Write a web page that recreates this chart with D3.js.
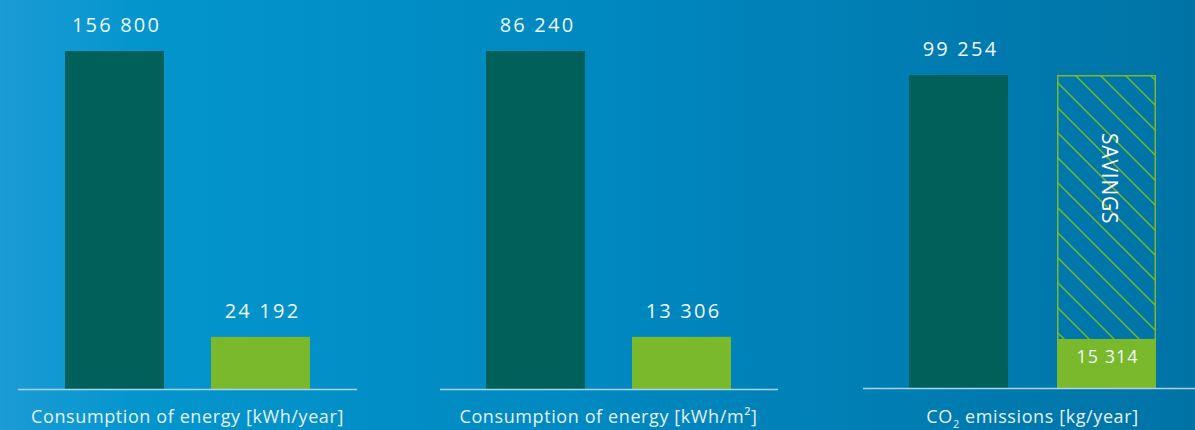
<!DOCTYPE html>
<html>
<head>
<meta charset="utf-8">
<script src="https://cdn.jsdelivr.net/npm/d3@7"></script>
<style>
  html, body { margin: 0; padding: 0; background: #0088c0; }
  svg { display: block; font-family: "Open Sans", "Noto Sans", sans-serif; }
</style>
</head>
<body>
<svg id="chart" width="1195" height="430"></svg>
<script>
// ---- data ----
const panelTitles = ["Consumption of energy [kWh/year]", "Consumption of energy [kWh/m²]", "CO₂ emissions [kg/year]"];
const beforeValues = [156800, 86240, 99254];
const afterValues = [24192, 13306, 15314];
const valueLabels = [["156 800", "24 192"], ["86 240", "13 306"], ["99 254", "15 314"]];
const savingsLabel = "SAVINGS";

// ---- layout ----
const W = 1195, H = 430;
const panels = [
  { x0: 18, x1: 357, barX: [65, 211], base: 389, top: 51 },
  { x0: 440, x1: 778, barX: [486, 632], base: 389, top: 51 },
  { x0: 863, x1: 1195, barX: [909, 1057], base: 388, top: 75 }
];
const barW = 99;
const dark = "#02605a", green = "#7ab82c";

const svg = d3.select("#chart");
const defs = svg.append("defs");
const grad = defs.append("linearGradient").attr("id", "bg").attr("x1", "0").attr("x2", "1").attr("y1", "0").attr("y2", "0");
grad.append("stop").attr("offset", "0").attr("stop-color", "#1c9bd6");
grad.append("stop").attr("offset", "0.12").attr("stop-color", "#0395cc");
grad.append("stop").attr("offset", "0.5").attr("stop-color", "#0088c0");
grad.append("stop").attr("offset", "1").attr("stop-color", "#0073a5");
svg.append("rect").attr("width", W).attr("height", H).attr("fill", "url(#bg)");

const pat = defs.append("pattern").attr("id", "hatch").attr("patternUnits", "userSpaceOnUse")
  .attr("width", 25).attr("height", 25);
pat.append("path").attr("d", "M-5,-5 L30,30 M-5,20 L5,30 M20,-5 L30,5")
  .attr("stroke", green).attr("stroke-width", 1.4).attr("fill", "none");

panels.forEach((p, i) => {
  const g = svg.append("g");
  const y = d3.scaleLinear().domain([0, beforeValues[i]]).range([p.base, p.top]);
  const vals = [beforeValues[i], afterValues[i]];

  // bars
  g.selectAll("rect.bar").data(vals).join("rect")
    .attr("class", "bar")
    .attr("x", (d, j) => p.barX[j])
    .attr("y", d => y(d))
    .attr("width", barW)
    .attr("height", d => p.base - y(d))
    .attr("fill", (d, j) => j === 0 ? dark : green);

  // savings hatch (third panel)
  if (i === 2) {
    const sx = p.barX[1];
    g.append("rect")
      .attr("x", sx + 0.75).attr("y", y(beforeValues[i]) + 0.75)
      .attr("width", barW - 1.5).attr("height", y(afterValues[i]) - y(beforeValues[i]) - 0.75)
      .attr("fill", "url(#hatch)").attr("stroke", green).attr("stroke-width", 1.5);
    g.append("text")
      .attr("transform", `translate(${sx + barW / 2 - 5},${y(beforeValues[i]) + 58}) rotate(90)`)
      .attr("fill", "#ffffff").attr("font-size", 21).attr("font-weight", 500)
      .attr("letter-spacing", 0.8)
      .text(savingsLabel);
  }

  // baseline
  g.append("line").attr("x1", p.x0).attr("x2", p.x1).attr("y1", p.base + 0.5).attr("y2", p.base + 0.5)
    .attr("stroke", "#a6d6ec").attr("stroke-width", 1.6);

  // value labels
  vals.forEach((v, j) => {
    const inside = (i === 2 && j === 1);
    g.append("text")
      .attr("x", p.barX[j] + barW / 2 + (inside ? 1 : 2))
      .attr("y", inside ? y(v) + 23 : y(v) - 19)
      .attr("text-anchor", "middle")
      .attr("fill", "#eef7fb")
      .attr("font-size", inside ? 18 : 20)
      .attr("letter-spacing", inside ? 1 : 2.2)
      .text(valueLabels[i][j]);
  });

  // panel title
  const cx = (p.barX[0] + p.barX[1] + barW) / 2;
  const t = g.append("text").attr("x", cx).attr("y", 423).attr("text-anchor", "middle")
    .attr("fill", "#e3f1f8").attr("font-size", 18).attr("letter-spacing", 0.6);
  if (i === 2) {
    t.append("tspan").text("CO");
    t.append("tspan").attr("font-size", 11).attr("dy", 5).text("2");
    t.append("tspan").attr("dy", -5).text(" emissions [kg/year]");
  } else {
    t.text(panelTitles[i]);
  }
});
</script>
</body>
</html>
